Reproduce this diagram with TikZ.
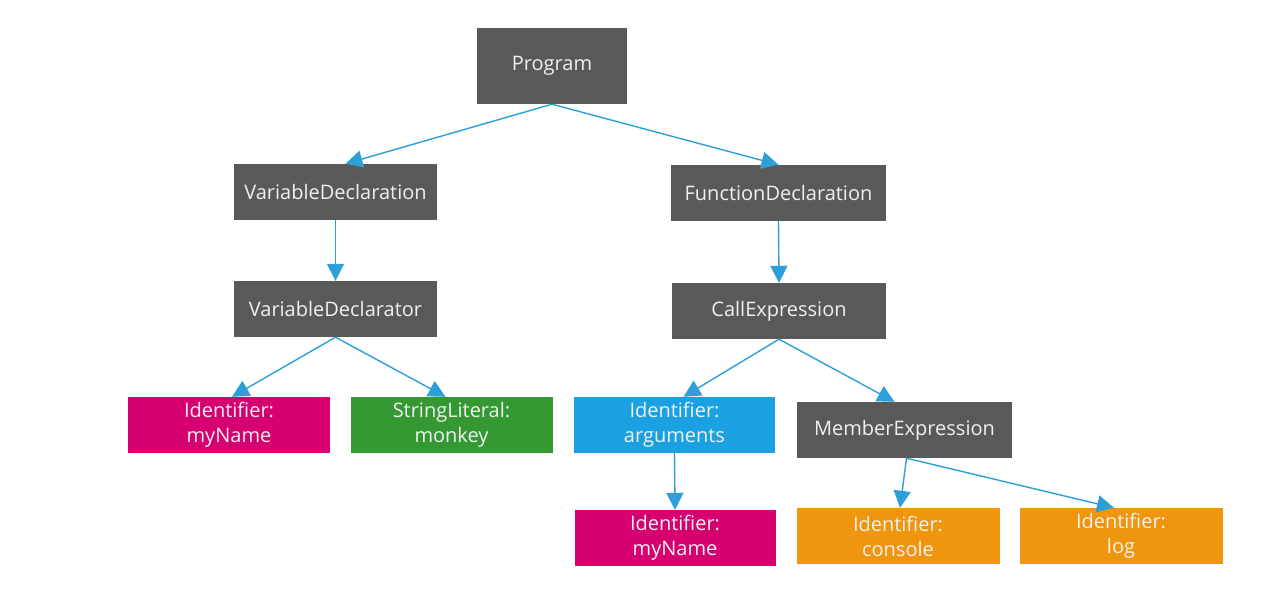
\documentclass[tikz,border=0pt]{standalone}
\usepackage{fontspec}
\setmainfont{Open Sans}
\usetikzlibrary{arrows.meta}
\definecolor{boxgray}{HTML}{595959}
\definecolor{boxpink}{HTML}{D70071}
\definecolor{boxgreen}{HTML}{349933}
\definecolor{boxblue}{HTML}{1BA1E2}
\definecolor{boxorange}{HTML}{F0960E}
\definecolor{arrowblue}{HTML}{2D9FD9}
\tikzset{
  box/.style={rectangle, fill=#1, text=white!94!black, inner sep=0pt, align=center,
    minimum height=56pt, font=\fontsize{20}{25}\selectfont},
  box/.default=boxgray,
  conn/.style={draw=arrowblue, line width=1.4pt, -{Triangle[length=17pt,width=17pt]}}
}
\begin{document}
\begin{tikzpicture}[x=1pt,y=-1pt]
\useasboundingbox (0,0) rectangle (1272,613);
\fill[white] (0,0) rectangle (1272,613);
\node[box, minimum width=150pt, minimum height=76pt] (prog) at (552,66) {Program};
\node[box, minimum width=203pt] (vd) at (335.5,192) {VariableDeclaration};
\node[box, minimum width=215pt] (fd) at (778.5,193) {FunctionDeclaration};
\node[box, minimum width=203pt] (vdr) at (335.5,309) {VariableDeclarator};
\node[box, minimum width=214pt] (ce) at (779,311) {CallExpression};
\node[box=boxpink, minimum width=202pt] (id1) at (229,425) {Identifier:\\myName};
\node[box=boxgreen, minimum width=202pt] (sl) at (451.5,425) {StringLiteral:\\monkey};
\node[box=boxblue, minimum width=201pt] (ida) at (674.5,425) {Identifier:\\arguments};
\node[box, minimum width=215pt] (me) at (904.5,430) {MemberExpression};
\node[box=boxpink, minimum width=201pt] (id2) at (675,538) {Identifier:\\myName};
\node[box=boxorange, minimum width=203pt] (idc) at (898,536) {Identifier:\\console};
\node[box=boxorange, minimum width=203pt] (idl) at (1121,536) {Identifier:\\log};

\draw[conn] (prog.south) -- ([xshift=10pt]vd.north);
\draw[conn] (prog.south) -- (fd.north);
\draw[conn] (vd.south) -- (vdr.north);
\draw[conn] (fd.south) -- (ce.north);
\draw[conn] (vdr.south) -- ([xshift=3pt]id1.north);
\draw[conn] (vdr.south) -- ([xshift=-6pt]sl.north);
\draw[conn] (ce.south) -- ([xshift=9pt]ida.north);
\draw[conn] (ce.south) -- ([xshift=-10pt]me.north);
\draw[conn] (ida.south) -- (id2.north);
\draw[conn] ([xshift=2pt]me.south) -- ([xshift=2pt]idc.north);
\draw[conn] ([xshift=2pt]me.south) -- ([xshift=-7pt]idl.north);
\end{tikzpicture}
\end{document}
